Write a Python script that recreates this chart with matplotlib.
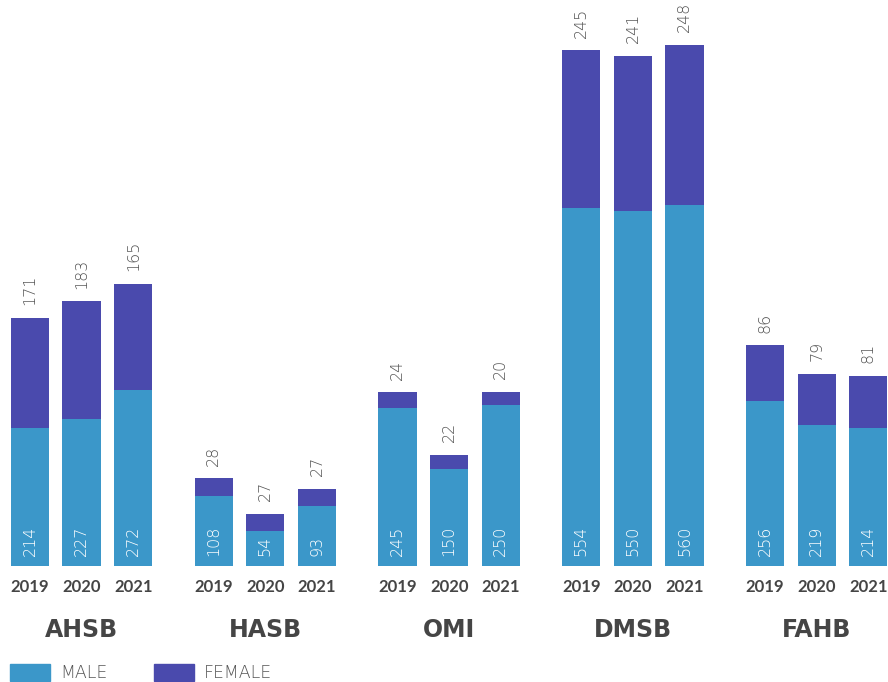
import matplotlib
matplotlib.use("Agg")
import matplotlib.pyplot as plt
import matplotlib.transforms as mtransforms
import numpy as np

groups = ["AHSB", "HASB", "OMI", "DMSB", "FAHB"]
years = ["2019", "2020", "2021"]
male = [214, 227, 272, 108, 54, 93, 245, 150, 250, 554, 550, 560, 256, 219, 214]
female = [171, 183, 165, 28, 27, 27, 24, 22, 20, 245, 241, 248, 86, 79, 81]

MALE_COLOR = "#3b97c9"
FEMALE_COLOR = "#4a4aad"
TEXT_COLOR = "#454545"
LIGHT_TEXT = "#555555"

plt.rcParams["font.family"] = ["Lato", "DejaVu Sans"]
thin = dict(family="DejaVu Sans", fontweight=200)

fig = plt.figure(figsize=(8.88, 6.82), dpi=100)
ax = fig.add_axes([0, 116 / 682, 1, 566 / 682])

group_step = 3.56
x = np.array([g * group_step + (k - 1) for g in range(len(groups)) for k in range(3)])
width = 0.74

ax.bar(x, male, width, color=MALE_COLOR)
ax.bar(x, female, width, bottom=male, color=FEMALE_COLOR)

ax.set_xlim(-1.58, 15.62)
ax.set_ylim(0, 877)

# value labels: male inside the bar foot, female above the stack
for xi, m, f in zip(x, male, female):
    ax.annotate(str(m), (xi, 0), xytext=(0, 7), textcoords="offset points",
                rotation=90, ha="center", va="bottom", color="white",
                fontsize=11.5, **thin)
    ax.annotate(str(f), (xi, m + f), xytext=(0, 9), textcoords="offset points",
                rotation=90, ha="center", va="bottom", color=LIGHT_TEXT,
                fontsize=11.5, **thin)

ax.set_xticks(x)
ax.set_xticklabels(years * len(groups), fontsize=12, fontweight="bold", color=TEXT_COLOR)
ax.tick_params(axis="x", length=0, pad=9.5)
ax.set_yticks([])
for s in ax.spines.values():
    s.set_visible(False)

trans = mtransforms.blended_transform_factory(ax.transData, fig.transFigure)
for g, name in enumerate(groups):
    ax.text(g * group_step, 1 - 630 / 682, name, transform=trans, ha="center", va="center",
            fontsize=17, fontweight="bold", family="DejaVu Sans", color=TEXT_COLOR)

handles = [plt.Rectangle((0, 0), 1, 1, color=MALE_COLOR),
           plt.Rectangle((0, 0), 1, 1, color=FEMALE_COLOR)]
leg = fig.legend(handles, ["MALE", "FEMALE"], loc="lower left", bbox_to_anchor=(10 / 888, 0.0),
                 ncol=2, frameon=False, borderpad=0, borderaxespad=0,
                 prop=dict(family="DejaVu Sans", weight=200, size=12.5),
                 handlelength=2.3, handleheight=1.15, handletextpad=0.57, columnspacing=2.7)
for t in leg.get_texts():
    t.set_color(LIGHT_TEXT)

fig.savefig("out.png", dpi=100)
